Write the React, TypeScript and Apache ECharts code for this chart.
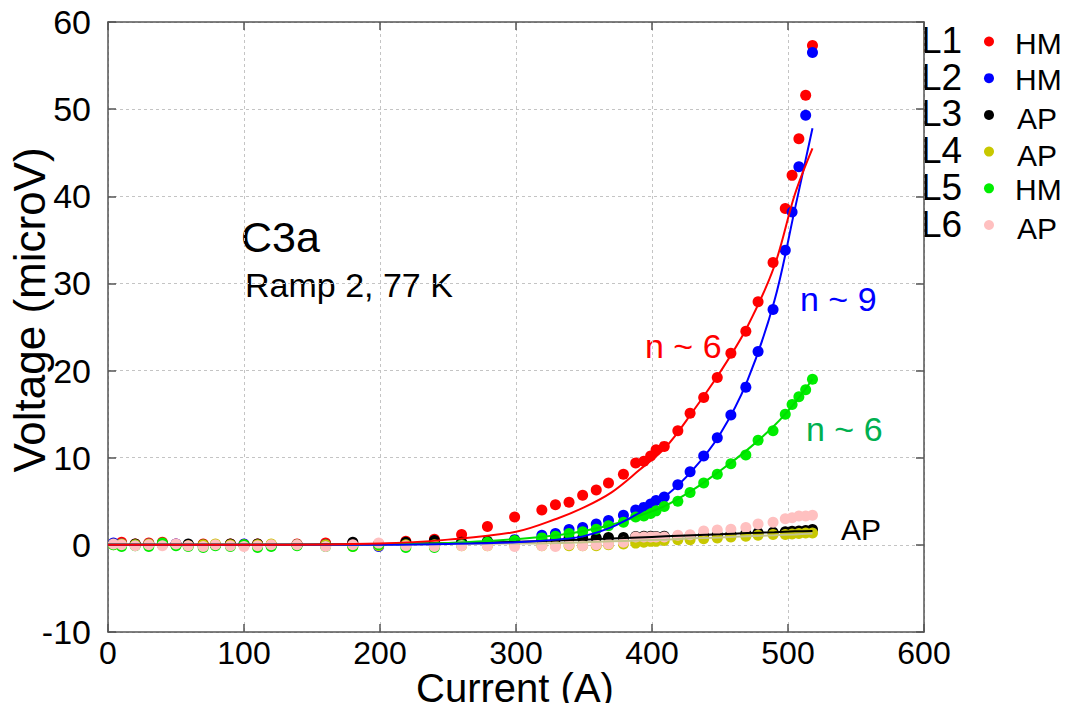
import { useEffect, useRef } from "react";
import * as echarts from "echarts";

// Current (A) of each measured point
const currents = [4, 10, 20, 30, 40, 50, 59, 70, 79, 90, 100, 110, 120, 139, 160, 180, 199, 219, 240, 260, 279, 299, 319, 329, 339, 349, 359, 368, 379, 388, 394, 399, 403, 409, 419, 428, 438, 448, 458, 469, 478, 489, 498, 503, 508, 513, 518];

// Voltage (microV) per lead
const l1 = [0.1, 0.3, 0.1, 0.2, 0.3, 0.1, 0.0, 0.1, 0.0, 0.1, 0.0, 0.1, 0.0, 0.1, 0.2, 0.2, 0.1, 0.4, 0.65, 1.2, 2.1, 3.2, 4.0, 4.6, 4.9, 5.7, 6.3, 7.1, 8.1, 9.4, 9.6, 10.2, 10.9, 11.3, 13.1, 15.1, 16.9, 19.2, 22.0, 24.5, 27.9, 32.4, 38.6, 42.4, 46.6, 51.6, 57.3];
const l2 = [0.2, 0.1, 0.0, 0.1, 0.0, 0.1, 0.0, -0.1, 0.0, 0.0, 0.1, 0.0, -0.1, 0.0, 0.0, 0.0, -0.2, 0.1, 0.2, 0.25, 0.35, 0.6, 1.1, 1.3, 1.75, 2.0, 2.4, 2.8, 3.4, 4.0, 4.3, 4.7, 5.1, 5.5, 6.9, 8.4, 10.2, 12.3, 14.9, 18.1, 22.2, 27.0, 33.8, 38.2, 43.4, 49.3, 56.5];
const l3 = [0.1, 0.0, 0.1, 0.0, 0.1, 0.0, 0.1, 0.0, 0.0, 0.1, 0.0, 0.1, 0.0, 0.0, 0.0, 0.3, 0.1, 0.3, 0.5, 0.3, 0.4, 0.5, 0.6, 0.7, 0.75, 0.8, 0.8, 0.85, 0.85, 0.95, 1.0, 1.0, 0.95, 1.0, 1.0, 1.05, 1.1, 1.2, 1.25, 1.3, 1.4, 1.45, 1.5, 1.55, 1.6, 1.65, 1.75];
const l4 = [0.0, 0.1, 0.0, 0.1, 0.0, 0.0, -0.1, 0.0, 0.1, 0.0, 0.0, 0.0, 0.1, 0.0, 0.0, -0.2, -0.1, 0.0, 0.0, -0.1, -0.1, 0.0, -0.1, -0.1, -0.1, -0.1, -0.1, 0.0, 0.1, 0.2, 0.3, 0.4, 0.4, 0.5, 0.6, 0.6, 0.7, 0.8, 0.9, 1.0, 1.1, 1.2, 1.2, 1.25, 1.3, 1.35, 1.35];
const l5 = [0.0, -0.2, -0.1, -0.2, 0.2, -0.1, -0.2, -0.3, -0.1, -0.2, 0.0, -0.3, -0.2, -0.1, -0.2, -0.2, 0.0, -0.3, -0.3, 0.0, 0.3, 0.5, 0.8, 1.0, 1.3, 1.5, 1.8, 2.2, 2.6, 3.2, 3.3, 3.6, 3.9, 4.4, 5.0, 6.0, 7.1, 8.1, 9.3, 10.3, 12.0, 13.1, 15.0, 16.1, 17.0, 17.8, 19.0];
const l6 = [0.1, 0.0, -0.1, 0.0, -0.1, 0.1, -0.1, -0.2, 0.0, -0.1, -0.2, -0.1, 0.0, 0.0, -0.2, 0.0, 0.2, -0.1, -0.2, -0.1, -0.1, -0.2, -0.1, -0.2, 0.0, -0.1, 0.0, 0.1, 0.3, 0.9, 0.9, 0.9, 0.9, 0.9, 1.1, 1.15, 1.6, 1.7, 1.8, 2.0, 2.4, 2.6, 3.0, 3.1, 3.3, 3.3, 3.4];

// Fit curves
const fitCurrents = [0, 100, 200, 250, 300, 330, 350, 370, 390, 410, 430, 450, 470, 490, 505, 518];
const fitL1 = [0, 0, 0.15, 0.6, 1.5, 3.0, 4.3, 6.0, 8.5, 11.2, 15.3, 19.8, 25.0, 32.0, 40.2, 45.5];
const fitL2 = [0, 0, 0, 0.1, 0.3, 0.6, 1.0, 2.0, 3.6, 5.6, 8.6, 12.7, 18.8, 28.0, 38.5, 47.8];
const fitL5 = [0, 0, 0.05, 0.2, 0.65, 1.1, 1.6, 2.3, 3.3, 4.5, 6.3, 8.5, 10.9, 13.7, 16.3, 19.0];
const fitL3 = [0, 0.02, 0.1, 0.2, 0.35, 0.5, 0.6, 0.72, 0.85, 0.98, 1.1, 1.22, 1.35, 1.45, 1.55, 1.6];
const fitL4 = [0, 0, 0.05, 0.1, 0.15, 0.2, 0.3, 0.4, 0.5, 0.6, 0.75, 0.85, 1.0, 1.1, 1.2, 1.3];

const xTicks = { min: 0, max: 600, interval: 100 };
const yTicks = { min: -10, max: 60, interval: 10 };

const leadNames = ["L1", "L2", "L3", "L4", "L5", "L6"];
const leadTypes = ["HM", "HM", "AP", "AP", "HM", "AP"];
const leadColors = ["#ff0000", "#0000ff", "#000000", "#c8c800", "#00ee00", "#ffc0c0"];
const leadValues = [l1, l2, l3, l4, l5, l6];

const fitSets = [
  { name: "fit L4", values: fitL4, color: "#c4c48c" },
  { name: "fit L3", values: fitL3, color: "#000000" },
  { name: "fit L5", values: fitL5, color: "#00dd00" },
  { name: "fit L2", values: fitL2, color: "#0000ff" },
  { name: "fit L1", values: fitL1, color: "#ff0000" },
];

const FONT = '"Liberation Sans", Arial, sans-serif';

export default function App() {
  const ref = useRef<HTMLDivElement>(null);
  useEffect(() => {
    if (!ref.current) return;
    const chart = echarts.init(ref.current, null, { renderer: "svg" });

    const axisLine = { show: true, onZero: false, lineStyle: { color: "#555", width: 1.5 } };
    const axisTick = { show: true, inside: true, length: 8, lineStyle: { color: "#555", width: 1.5 } };
    const splitLine = { show: true, lineStyle: { color: "#c4c4c4", type: [3, 3], width: 1 } };

    const scatterSeries = leadNames.map((n, k) => ({
      name: n,
      type: "scatter",
      symbolSize: 11,
      itemStyle: { color: leadColors[k], opacity: 1 },
      data: currents.map((c, i) => [c, leadValues[k][i]]),
      z: 2,
    }));
    const lineSeries = fitSets.map((f) => ({
      name: f.name,
      type: "line",
      smooth: 0.35,
      showSymbol: false,
      lineStyle: { color: f.color, width: 2 },
      data: fitCurrents.map((c, i) => [c, f.values[i]]),
      z: 3,
    }));

    const legendGraphics: any[] = [];
    leadNames.forEach((n, k) => {
      const cy = 40.5 + k * 36.7;
      legendGraphics.push({
        type: "text",
        x: 921,
        y: cy,
        style: { text: n, font: `37px ${FONT}`, lineHeight: 30, fill: "#000", align: "left", verticalAlign: "middle" },
      });
      legendGraphics.push({
        type: "circle",
        shape: { cx: 989, cy: cy + 1, r: 5 },
        style: { fill: leadColors[k] },
      });
      legendGraphics.push({
        type: "text",
        x: leadTypes[k] === "HM" ? 1015 : 1017,
        y: cy + (leadTypes[k] === "HM" ? 2.5 : 4.5),
        style: { text: leadTypes[k], font: `30px ${FONT}`, lineHeight: 26, fill: "#000", align: "left", verticalAlign: "middle" },
      });
    });

    const textEl = (text: string, x: number, y: number, size: number, fill: string) => ({
      type: "text",
      x,
      y,
      style: { text, font: `${size}px ${FONT}`, fill, align: "left", verticalAlign: "middle" },
    });

    chart.setOption({
      animation: false,
      backgroundColor: "#fff",
      grid: { left: 108, top: 22, right: 152, bottom: 71, containLabel: false },
      xAxis: [
        {
          type: "value",
          ...xTicks,
          position: "bottom",
          axisLine,
          axisTick,
          axisLabel: { fontSize: 32, color: "#000", margin: 7, fontFamily: FONT, lineHeight: 28 },
          splitLine,
        },
        {
          type: "value",
          ...xTicks,
          position: "top",
          axisLine,
          axisTick,
          axisLabel: { show: false },
          splitLine: { show: false },
        },
      ],
      yAxis: [
        {
          type: "value",
          ...yTicks,
          position: "left",
          axisLine,
          axisTick,
          axisLabel: { fontSize: 34, color: "#000", margin: 17, fontFamily: FONT },
          splitLine,
        },
        {
          type: "value",
          ...yTicks,
          position: "right",
          axisLine,
          axisTick,
          axisLabel: { show: false },
          splitLine: { show: false },
        },
      ],
      series: [...scatterSeries, ...lineSeries],
      graphic: [
        {
          type: "text",
          x: 29,
          y: 310,
          rotation: Math.PI / 2,
          style: { text: "Voltage (microV)", font: `44px ${FONT}`, fill: "#000", align: "center", verticalAlign: "middle" },
        },
        {
          type: "text",
          x: 515,
          y: 688,
          style: { text: "Current (A)", font: `40px ${FONT}`, lineHeight: 30, fill: "#000", align: "center", verticalAlign: "middle" },
        },
        textEl("C3a", 241, 237, 43, "#000"),
        textEl("Ramp 2, 77 K", 245, 285, 34, "#000"),
        textEl("n ~ 6", 645, 346, 34, "#ff0000"),
        textEl("n ~ 9", 800, 299, 34, "#0000ff"),
        textEl("n ~ 6", 806, 429, 34, "#00b050"),
        textEl("AP", 841, 529, 30, "#000"),
        ...legendGraphics,
      ],
    });
    return () => chart.dispose();
  }, []);
  return <div ref={ref} style={{ position: "fixed", left: 0, top: 0, width: 1076, height: 703 }} />;
}
